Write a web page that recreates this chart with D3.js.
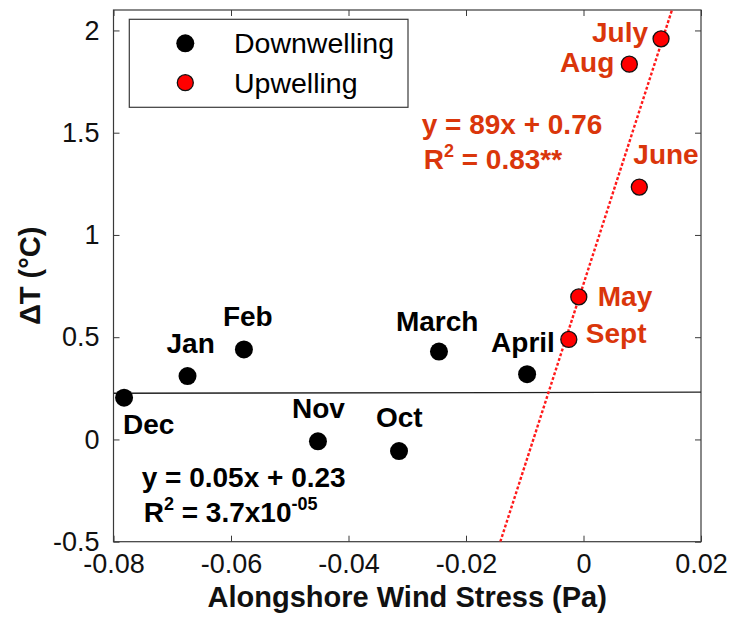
<!DOCTYPE html>
<html>
<head>
<meta charset="utf-8">
<script src="https://cdn.jsdelivr.net/npm/d3@7/dist/d3.min.js"></script>
<style>
  html, body { margin: 0; padding: 0; background: #fff; }
  svg { display: block; font-family: "Liberation Sans", Arial, sans-serif; }
</style>
</head>
<body>
<svg id="chart" width="733" height="620"></svg>
<script>
// Monthly alongshore wind stress (Pa) vs. temperature difference (°C)
const downMonths = ["Dec", "Jan", "Feb", "Nov", "Oct", "March", "April"];
const downStress = [-0.0782, -0.0674, -0.0578, -0.0452, -0.0314, -0.0246, -0.0096];
const downDeltaT = [0.204, 0.310, 0.440, -0.009, -0.057, 0.430, 0.319];

const upMonths = ["May", "Sept", "July", "Aug", "June"];
const upStress = [-0.0008, -0.0025, 0.0132, 0.0078, 0.0095];
const upDeltaT = [0.697, 0.489, 1.959, 1.835, 1.234];

// Linear fits: [slope, intercept]
const downFit = [0.05, 0.23];
const upFit = [89, 0.76];

const xTicks = [-0.08, -0.06, -0.04, -0.02, 0, 0.02];
const xTickLabels = ["-0.08", "-0.06", "-0.04", "-0.02", "0", "0.02"];
const yTicks = [-0.5, 0, 0.5, 1, 1.5, 2];
const yTickLabels = ["-0.5", "0", "0.5", "1", "1.5", "2"];

// Label placement relative to each marker (dx, dy, anchor)
const downLabelOffsets = [[-1, 36, "start"], [-21, -23, "start"], [-21, -23, "start"],
  [-26, -23, "start"], [-23, -24, "start"], [-43, -21, "start"], [-36, -22, "start"]];
const upLabelOffsets = [[19, 9, "start"], [17, 4, "start"], [-13, 3, "end"],
  [-15, 8, "end"], [-6, -23, "start"]];

const RED_TEXT = "#da360b";
const svg = d3.select("#chart");
const plotLeft = 113.5, plotRight = 701, plotTop = 10, plotBottom = 541.7;

const x = d3.scaleLinear().domain([-0.08, 0.02]).range([plotLeft, plotRight]);
const y = d3.scaleLinear().domain([-0.5, 2.1]).range([plotBottom, plotTop]);

svg.append("defs").append("clipPath").attr("id", "plotClip")
  .append("rect").attr("x", plotLeft).attr("y", plotTop)
  .attr("width", plotRight - plotLeft).attr("height", plotBottom - plotTop);

// Axes with inward ticks, mirrored on top and right
const axisColor = "#3a3a3a";
function styleAxis(g) {
  g.select(".domain").remove();
  g.selectAll(".tick line").attr("stroke", axisColor).attr("stroke-width", 1);
  g.selectAll(".tick text").attr("fill", "#111").attr("font-size", 27);
}
svg.append("g").attr("transform", `translate(0,${plotBottom})`)
  .call(d3.axisBottom(x).tickValues(xTicks).tickFormat((d, i) => xTickLabels[i])
    .tickSizeInner(-6).tickSizeOuter(0).tickPadding(14))
  .call(styleAxis)
  .call(g => g.selectAll(".tick text").attr("dy", "0.71em").attr("y", 12));
svg.append("g").attr("transform", `translate(0,${plotTop})`)
  .call(d3.axisTop(x).tickValues(xTicks).tickFormat("").tickSizeInner(-6).tickSizeOuter(0))
  .call(styleAxis);
svg.append("g").attr("transform", `translate(${plotLeft},0)`)
  .call(d3.axisLeft(y).tickValues(yTicks).tickFormat((d, i) => yTickLabels[i])
    .tickSizeInner(-6).tickSizeOuter(0).tickPadding(14))
  .call(styleAxis);
svg.append("g").attr("transform", `translate(${plotRight},0)`)
  .call(d3.axisRight(y).tickValues(yTicks).tickFormat("").tickSizeInner(-6).tickSizeOuter(0))
  .call(styleAxis);

svg.append("rect").attr("x", plotLeft).attr("y", plotTop)
  .attr("width", plotRight - plotLeft).attr("height", plotBottom - plotTop)
  .attr("fill", "none").attr("stroke", axisColor).attr("stroke-width", 1.2);

// Fit lines
const plot = svg.append("g").attr("clip-path", "url(#plotClip)");
const line = d3.line().x(d => x(d[0])).y(d => y(d[1]));
const xDom = x.domain();
plot.append("path")
  .datum(xDom.map(v => [v, downFit[0] * v + downFit[1]]))
  .attr("d", line).attr("fill", "none").attr("stroke", "#222").attr("stroke-width", 1.3);
const yDom = y.domain();
plot.append("path")
  .datum(yDom.map(v => [(v - upFit[1]) / upFit[0], v]))
  .attr("d", line).attr("fill", "none").attr("stroke", "#ff1a1a")
  .attr("stroke-width", 2.4).attr("stroke-dasharray", "3,2");

// Markers
const downData = downMonths.map((m, i) => ({ m, x: downStress[i], y: downDeltaT[i], o: downLabelOffsets[i] }));
const upData = upMonths.map((m, i) => ({ m, x: upStress[i], y: upDeltaT[i], o: upLabelOffsets[i] }));

svg.append("g").selectAll("circle").data(downData).join("circle")
  .attr("cx", d => x(d.x)).attr("cy", d => y(d.y)).attr("r", 9)
  .attr("fill", "#000");
svg.append("g").selectAll("circle").data(upData).join("circle")
  .attr("cx", d => x(d.x)).attr("cy", d => y(d.y)).attr("r", 8)
  .attr("fill", "#ff0000").attr("stroke", "#111").attr("stroke-width", 1.3);

// Month labels
svg.append("g").selectAll("text").data(downData).join("text")
  .attr("x", d => x(d.x) + d.o[0]).attr("y", d => y(d.y) + d.o[1])
  .attr("text-anchor", d => d.o[2])
  .attr("font-size", 28).attr("font-weight", "bold").attr("fill", "#000")
  .text(d => d.m);
svg.append("g").selectAll("text").data(upData).join("text")
  .attr("x", d => x(d.x) + d.o[0]).attr("y", d => y(d.y) + d.o[1])
  .attr("text-anchor", d => d.o[2])
  .attr("font-size", 28).attr("font-weight", "bold").attr("fill", RED_TEXT)
  .text(d => d.m);

// Fit equations
function equation(xp, yp, color, main, r2) {
  const g = svg.append("g").attr("font-size", 28).attr("font-weight", "bold").attr("fill", color);
  g.append("text").attr("x", xp).attr("y", yp).text(main);
  const t = g.append("text").attr("x", xp + 2).attr("y", yp + 35);
  r2.forEach(([s, sup]) => {
    const span = t.append("tspan").text(s);
    if (sup) span.attr("font-size", 18).attr("baseline-shift", "65%");
  });
}
equation(421.7, 134.3, RED_TEXT, "y = 89x + 0.76",
  [["R", false], ["2", true], [" = 0.83**", false]]);
equation(141.7, 486.7, "#000", "y = 0.05x + 0.23",
  [["R", false], ["2", true], [" = 3.7x10", false], ["-05", true]]);

// Legend
const legend = svg.append("g");
legend.append("rect").attr("x", 129.3).attr("y", 19.3).attr("width", 278.7).attr("height", 88)
  .attr("fill", "#fff").attr("stroke", axisColor).attr("stroke-width", 1.2);
const legendItems = [["Downwelling", "#000", 9, "none"], ["Upwelling", "#ff0000", 8, "#111"]];
legendItems.forEach(([label, fill, r, stroke], i) => {
  const cy = 43.3 + i * 39.4;
  legend.append("circle").attr("cx", 185.3).attr("cy", cy).attr("r", r)
    .attr("fill", fill).attr("stroke", stroke).attr("stroke-width", 1.3);
  legend.append("text").attr("x", 234).attr("y", cy + 10)
    .attr("font-size", 28.5).attr("fill", "#000").text(label);
});

// Axis titles
svg.append("text").attr("x", (plotLeft + plotRight) / 2).attr("y", 607)
  .attr("text-anchor", "middle").attr("font-size", 29).attr("font-weight", "bold")
  .attr("fill", "#111").text("Alongshore Wind Stress (Pa)");
svg.append("text").attr("transform", `translate(40,${(plotTop + plotBottom) / 2}) rotate(-90)`)
  .attr("text-anchor", "middle").attr("font-size", 29).attr("font-weight", "bold")
  .attr("fill", "#111").text("ΔT (°C)");
</script>
</body>
</html>
